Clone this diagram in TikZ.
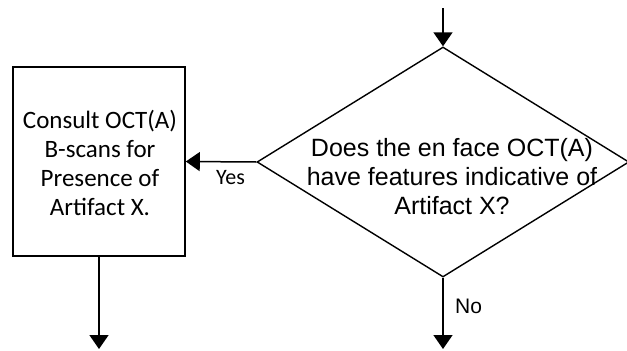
\documentclass[tikz,border=0pt]{standalone}
\usepackage{fontspec}
\setmainfont{Liberation Sans}
\newfontfamily\calibri{Carlito}
\usetikzlibrary{shapes.geometric,arrows.meta}
\begin{document}
\begin{tikzpicture}[x=1pt,y=-1pt,
  boxstyle/.style={draw,line width=1.6pt,minimum width=172pt,minimum height=189pt,inner sep=0pt},
  decstyle/.style={draw,diamond,line width=1.4pt,minimum width=372pt,minimum height=230pt,inner sep=0pt},
  arr/.style={line width=1.5pt,-{Triangle[length=14pt,width=19pt]}},
  rtext/.style={font=\calibri\fontsize{25}{29}\selectfont,align=center,inner sep=0pt},
  dtext/.style={font=\fontsize{25}{29}\selectfont,align=center,inner sep=0pt},
  lbl/.style={inner sep=0pt,anchor=base west}]
\useasboundingbox (0,0) rectangle (627,351);
\node[boxstyle] (r) at (99,161.5) {};
\node[rtext] (rt) at (100,163) {Consult OCT(A)\\B-scans for\\Presence of\\Artifact X.};
\node[decstyle] (d) at (443,162) {};
\node[dtext] (dt) at (452,177) {Does the en face OCT(A)\\have features indicative of\\Artifact X?};
\coordinate (in) at (443,8);
\coordinate (rend) at (99,349);
\coordinate (dend) at (443,349);
\draw[arr] (in) -- (d.north);
\draw[arr] (d.west) -- (r.east);
\draw[arr] (d.south) -- (dend);
\draw[arr] (r.south) -- (rend);
\node[lbl,font=\calibri\fontsize{22}{26}\selectfont] (yes) at (216,184) {Yes};
\node[lbl,font=\fontsize{21}{25}\selectfont] (no) at (455,313) {No};
\end{tikzpicture}
\end{document}
